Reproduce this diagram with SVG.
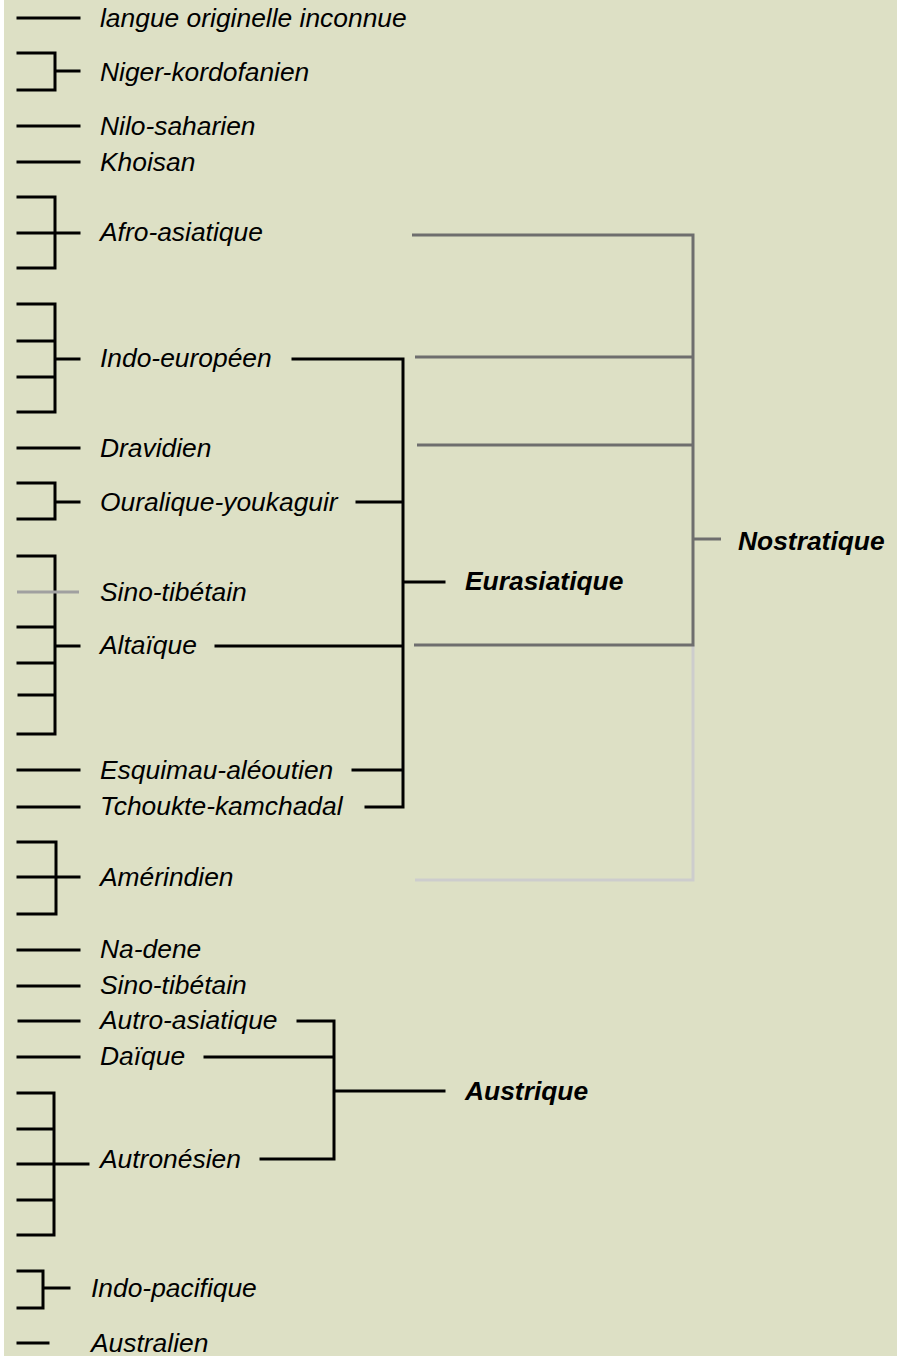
<svg xmlns="http://www.w3.org/2000/svg" width="908" height="1356" viewBox="0 0 908 1356">
<style>
.t{font-family:"Liberation Sans",Arial,sans-serif;font-size:26.4px;font-style:italic;fill:#000}
.b{font-weight:bold}
.k{stroke:#000;stroke-width:3;fill:none;stroke-linecap:square}
.g{stroke:#6e6e6e;stroke-width:3;fill:none}
.lg{stroke:#cdcdcd;stroke-width:3;fill:none}
.mg{stroke:#a0a0a0;stroke-width:3;fill:none}
</style>
<rect x="0" y="0" width="908" height="1356" fill="#ffffff"/>
<rect x="4" y="0" width="893" height="1356" fill="#dde0c5"/>

<g id="n-langue"><path class="k" d="M18 18H79"/><text class="t" x="100" y="27">langue originelle inconnue</text></g>
<g id="n-niger"><path class="k" d="M18 53H55V90H18M55 71H79"/><text class="t" x="100" y="81">Niger-kordofanien</text></g>
<g id="n-nilo"><path class="k" d="M18 126H79"/><text class="t" x="100" y="135">Nilo-saharien</text></g>
<g id="n-khoisan"><path class="k" d="M18 162H79"/><text class="t" x="100" y="171">Khoisan</text></g>
<g id="n-afro"><path class="k" d="M18 197H55V268H18M18 233H79"/><text class="t" x="100" y="241">Afro-asiatique</text></g>
<g id="n-indo"><path class="k" d="M18 304H55V412H18M18 341H55M18 377H55M55 359H79"/><text class="t" x="100" y="367">Indo-européen</text></g>
<g id="n-dravidien"><path class="k" d="M18 448H79"/><text class="t" x="100" y="457">Dravidien</text></g>
<g id="n-ouralique"><path class="k" d="M18 483H55V519H18M55 502H79"/><text class="t" x="100" y="511">Ouralique-youkaguir</text></g>
<g id="n-altaique"><path class="k" d="M18 556H55V734H18M18 627H55M18 663H55M19 695H55M55 646H79"/><path class="mg" d="M17 592H79"/><text class="t" x="100" y="601">Sino-tibétain</text><text class="t" x="100" y="654">Altaïque</text></g>
<g id="n-esquimau"><path class="k" d="M18 770H79"/><text class="t" x="100" y="779">Esquimau-aléoutien</text></g>
<g id="n-tchoukte"><path class="k" d="M18 807H79"/><text class="t" x="100" y="815">Tchoukte-kamchadal</text></g>
<g id="n-amerindien"><path class="k" d="M18 842H56V914H18M18 877H79"/><text class="t" x="100" y="886">Amérindien</text></g>
<g id="n-nadene"><path class="k" d="M18 950H79"/><text class="t" x="100" y="958">Na-dene</text></g>
<g id="n-sino2"><path class="k" d="M18 986H79"/><text class="t" x="100" y="994">Sino-tibétain</text></g>
<g id="n-autroasiatique"><path class="k" d="M19 1021H79"/><text class="t" x="100" y="1029">Autro-asiatique</text></g>
<g id="n-daique"><path class="k" d="M18 1057H79"/><text class="t" x="100" y="1065">Daïque</text></g>
<g id="n-autronesien"><path class="k" d="M18 1093H54V1235H18M18 1129H54M18 1200H54M18 1164H88"/><text class="t" x="100" y="1168">Autronésien</text></g>
<g id="n-indopacifique"><path class="k" d="M18 1271H43V1308H18M43 1288H69"/><text class="t" x="91" y="1297">Indo-pacifique</text></g>
<g id="n-australien"><path class="k" d="M18 1343H48"/><text class="t" x="91" y="1352">Australien</text></g>
<g id="n-eurasiatique"><text class="t b" x="465" y="590">Eurasiatique</text></g>
<g id="n-nostratique"><text class="t b" x="738" y="550">Nostratique</text></g>
<g id="n-austrique"><text class="t b" x="465" y="1100">Austrique</text></g>

<g id="connectors">
<path class="k" d="M293 359H403V807H366M357 502H403M216 646H403M353 770H403M403 582H444"/>
<path class="k" d="M298 1021H334V1159H261M205 1057H334M334 1091H444"/>
<path class="lg" d="M693 645V880H415"/>
<path class="g" d="M412 235H693V645H414M415 357H693M417 445H693M693 539H721"/>
</g>
</svg>
